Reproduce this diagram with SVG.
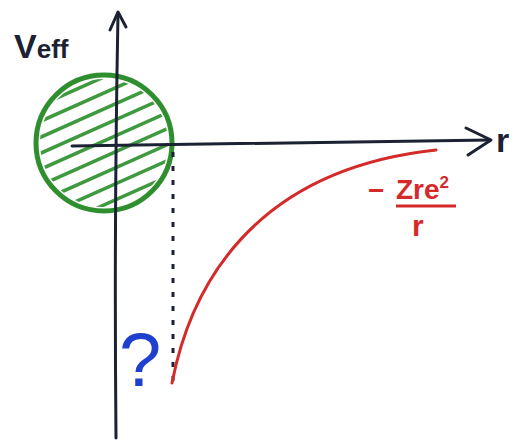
<svg xmlns="http://www.w3.org/2000/svg" width="518" height="442" viewBox="0 0 518 442">
<style>
.ax{stroke:#1c2233;stroke-width:3;fill:none;stroke-linecap:round;stroke-linejoin:round}
.hat{stroke:#3f9a3f;stroke-width:3.5;stroke-linecap:round}
.lbl{font-family:"Liberation Sans",sans-serif}
</style>
<defs><clipPath id="cc"><circle cx="104" cy="143" r="64"/></clipPath></defs>
<rect width="518" height="442" fill="#ffffff"/>
<g id="sphere">
<g clip-path="url(#cc)">
<line class="hat" x1="30" y1="110" x2="180" y2="43"/>
<line class="hat" x1="30" y1="126" x2="180" y2="59"/>
<line class="hat" x1="30" y1="142" x2="180" y2="75"/>
<line class="hat" x1="30" y1="158" x2="180" y2="91"/>
<line class="hat" x1="30" y1="174" x2="180" y2="107"/>
<line class="hat" x1="30" y1="190" x2="180" y2="123"/>
<line class="hat" x1="30" y1="206" x2="180" y2="139"/>
<line class="hat" x1="30" y1="222" x2="180" y2="155"/>
<line class="hat" x1="30" y1="238" x2="180" y2="171"/>
<line class="hat" x1="30" y1="254" x2="180" y2="187"/>
</g>
<circle cx="104" cy="143" r="68" fill="none" stroke="#2f8f2f" stroke-width="5"/>
</g>
<g id="connectors">
<path class="ax" d="M116 438 Q114 220 118 14"/>
<path class="ax" d="M110 30 L118 12 L126 27"/>
<path class="ax" d="M72 146 L490 140"/>
<path class="ax" d="M466 128 L491 140 L468 155"/>
<line x1="173" y1="152" x2="173" y2="382" stroke="#1c2233" stroke-width="3" stroke-dasharray="5 9"/>
<path d="M172 383 C 190 290 250 170 436 150" fill="none" stroke="#d42a2a" stroke-width="3" stroke-linecap="round"/>
</g>
<g id="labels">
<text class="lbl" x="14" y="58" font-size="34" font-weight="bold" fill="#1c2233">V<tspan font-size="26">eff</tspan></text>
<text class="lbl" x="496" y="152" font-size="34" font-weight="bold" fill="#1c2233">r</text>
<text class="lbl" x="119" y="386" font-size="76" fill="#1f3fcf">?</text>
<text class="lbl" x="368" y="200" font-size="28" font-weight="bold" fill="#d42a2a">−</text>
<text class="lbl" x="396" y="199" font-size="28" font-weight="bold" fill="#d42a2a">Zre<tspan font-size="17" dy="-11">2</tspan></text>
<line x1="396" y1="206" x2="456" y2="206" stroke="#d42a2a" stroke-width="3"/>
<text class="lbl" x="412" y="236" font-size="30" font-weight="bold" fill="#d42a2a">r</text>
</g>
</svg>
